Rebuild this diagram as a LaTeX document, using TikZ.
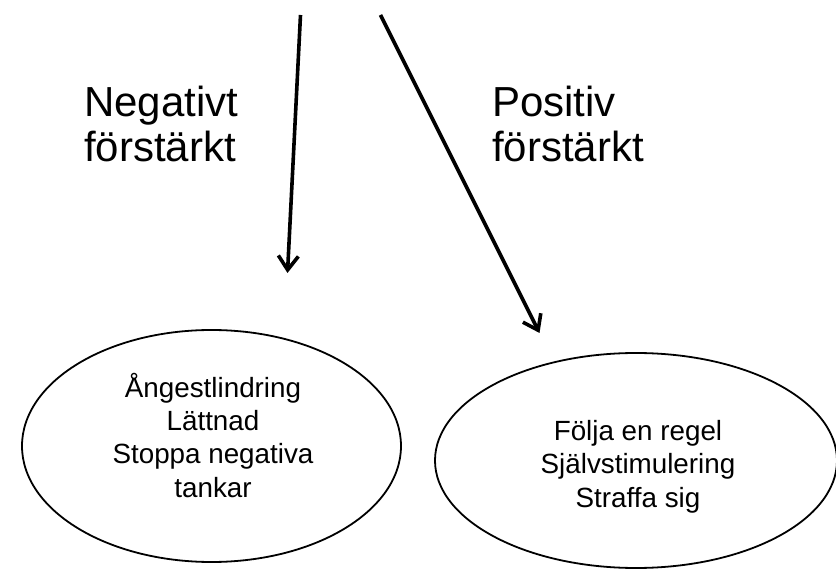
\documentclass[tikz,border=0pt]{standalone}
\usepackage{fontspec}
\setmainfont{Liberation Sans}
\usetikzlibrary{arrows.meta,shapes.geometric}

\begin{document}
\begin{tikzpicture}[x=1pt,y=-1pt,
  outcome/.style={draw=black,line width=1.8pt,ellipse,inner sep=0pt},
  itemtext/.style={align=center,inner sep=0pt,anchor=base,
    font=\fontsize{27.8}{33.3}\selectfont},
  kindlabel/.style={align=left,inner sep=0pt,anchor=base west,
    font=\fontsize{42}{45}\selectfont},
  flow/.style={line width=3.6pt,
    -{Straight Barb[length=14pt,width=20pt,line width=3.6pt]}}]
  \useasboundingbox (0,0) rectangle (836,569);

  % the two outcome ellipses
  \node[outcome,minimum width=379pt,minimum height=232pt] (neg) at (211.5,446) {};
  \node[outcome,minimum width=402pt,minimum height=215pt] (pos) at (636,460.5) {};

  % item lists, placed by the baseline of their last line
  \node[itemtext] (negtext) at (213,497)
    {Ångestlindring\\Lättnad\\Stoppa negativa\\tankar};
  \node[itemtext] (postext) at (638,507)
    {Följa en regel\\Självstimulering\\Straffa sig};

  % labels of the two reinforcement paths
  \node[kindlabel] (neglabel) at (84,162) {Negativt\\förstärkt};
  \node[kindlabel] (poslabel) at (492,162) {Positiv\\förstärkt};

  % arrows coming down from above
  \coordinate (negstart) at (300.5,15);
  \coordinate (negend) at (287.5,273);
  \coordinate (posstart) at (380.5,15);
  \coordinate (posend) at (539.5,333);
  \draw[flow] (negstart) -- (negend);
  \draw[flow] (posstart) -- (posend);
\end{tikzpicture}
\end{document}
